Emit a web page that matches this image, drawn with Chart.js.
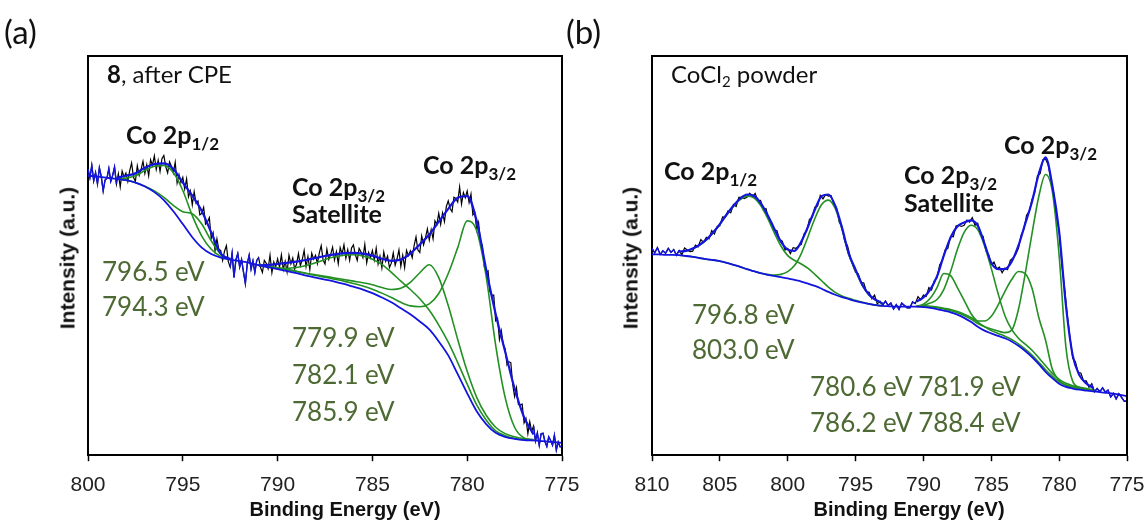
<!DOCTYPE html>
<html>
<head>
<meta charset="utf-8">
<title>Co 2p XPS spectra</title>
<script src="https://cdn.jsdelivr.net/npm/chart.js@4.4.1/dist/chart.umd.min.js"></script>
<style>
  body { margin: 0; background: #fff; }
  #wrap { position: relative; width: 1145px; height: 523px; overflow: hidden; font-family: Lato, "Open Sans", sans-serif; }
  canvas { position: absolute; top: 0; }
  .lbl { position: absolute; white-space: nowrap; line-height: 1; }
  .panel { font-size: 33px; color: #111; }
  .note { font-size: 24px; color: #111; }
  .note sub { font-size: 15px; position: relative; top: 4px; vertical-align: baseline; }
  .peak { font-size: 25px; font-weight: bold; color: #111; }
  .peak sub { font-size: 17px; position: relative; top: 6px; vertical-align: baseline; }
  .fit { font-size: 26px; color: #4e6a34; }
  .axis { font-family: "Liberation Sans", Arial, sans-serif; font-weight: bold; color: #111;
          transform: translate(-50%, -50%); }
  .xt { font-size: 20px; }
  .yt { font-size: 21px; transform: translate(-50%, -50%) rotate(-90deg); }
</style>
</head>
<body>
<div id="wrap">
  <canvas id="chartA" width="600" height="523" style="left:0"></canvas>
  <canvas id="chartB" width="560" height="523" style="left:600px"></canvas>

  <div class="lbl panel" style="left:4px;top:15px">(a)</div>
  <div class="lbl panel" style="left:566px;top:15px">(b)</div>

  <div class="lbl note" style="left:107px;top:62px"><b>8</b>, after CPE</div>
  <div class="lbl note" style="left:671px;top:62px">CoCl<sub>2</sub> powder</div>

  <div class="lbl peak" style="left:126px;top:122px">Co 2p<sub>1/2</sub></div>
  <div class="lbl peak" style="left:292px;top:174px">Co 2p<sub>3/2</sub></div>
  <div class="lbl peak" style="left:292px;top:201px">Satellite</div>
  <div class="lbl peak" style="left:423px;top:152px">Co 2p<sub>3/2</sub></div>

  <div class="lbl peak" style="left:664px;top:158px">Co 2p<sub>1/2</sub></div>
  <div class="lbl peak" style="left:904px;top:162px">Co 2p<sub>3/2</sub></div>
  <div class="lbl peak" style="left:904px;top:190px">Satellite</div>
  <div class="lbl peak" style="left:1004px;top:132px">Co 2p<sub>3/2</sub></div>

  <div class="lbl fit" style="left:102px;top:258px">796.5 eV</div>
  <div class="lbl fit" style="left:102px;top:293px">794.3 eV</div>
  <div class="lbl fit" style="left:292px;top:324px">779.9 eV</div>
  <div class="lbl fit" style="left:292px;top:361px">782.1 eV</div>
  <div class="lbl fit" style="left:292px;top:398px">785.9 eV</div>

  <div class="lbl fit" style="left:692px;top:301px">796.8 eV</div>
  <div class="lbl fit" style="left:692px;top:336px">803.0 eV</div>
  <div class="lbl fit" style="left:810px;top:373px">780.6 eV 781.9 eV</div>
  <div class="lbl fit" style="left:810px;top:409px">786.2 eV 788.4 eV</div>

  <div class="lbl axis xt" style="left:345px;top:509px">Binding Energy (eV)</div>
  <div class="lbl axis xt" style="left:909px;top:509px">Binding Energy (eV)</div>
  <div class="lbl axis yt" style="left:67px;top:258px">Intensity (a.u.)</div>
  <div class="lbl axis yt" style="left:630px;top:258px">Intensity (a.u.)</div>
</div>

<script>
// energy grids (eV, high to low) — spectra are sampled evenly
function grid(from, to, step) {
  const out = [];
  const n = Math.round((from - to) / step);
  for (let i = 0; i <= n; i++) out.push(+(from - i * step).toFixed(2));
  return out;
}

// ---------- (a) 8, after CPE ----------
const rawStepA = 0.1;
const rawA = [
  71.7, 69.5, 72.6, 68.7, 70.8, 68.0, 72.0, 69.8, 66.2, 68.9,
  69.4, 71.8, 68.6, 70.1, 72.2, 67.9, 70.5, 67.2, 71.2, 69.7,
  70.7, 68.6, 71.3, 73.2, 69.6, 68.6, 72.5, 70.1, 71.6, 73.6,
  70.6, 72.8, 70.0, 74.0, 72.6, 75.0, 71.6, 73.9, 71.1, 74.3,
  75.1, 72.3, 70.7, 73.5, 72.4, 70.7, 73.4, 68.2, 70.3, 68.3,
  69.6, 66.7, 69.2, 64.7, 66.2, 62.7, 66.0, 63.1, 63.7, 60.2,
  60.6, 62.1, 57.9, 58.4, 59.5, 54.3, 55.7, 51.2, 54.2, 51.5,
  51.3, 48.8, 51.1, 52.5, 48.5, 47.1, 50.6, 44.5, 48.9, 50.5,
  47.1, 49.0, 45.9, 43.0, 48.0, 50.1, 46.6, 48.7, 45.8, 48.8,
  49.5, 47.0, 45.8, 48.8, 48.1, 46.7, 50.1, 45.7, 48.4, 47.2,
  49.2, 47.1, 50.2, 46.5, 48.6, 45.9, 50.1, 47.9, 49.4, 46.6,
  47.9, 50.5, 47.5, 49.0, 51.3, 47.2, 49.8, 46.5, 50.6, 49.1,
  50.1, 48.0, 50.7, 52.5, 48.9, 47.9, 51.6, 49.0, 50.3, 52.1,
  48.9, 51.0, 48.0, 52.0, 50.4, 52.7, 49.3, 51.5, 48.8, 51.9,
  52.7, 50.2, 48.8, 51.8, 50.9, 49.5, 52.8, 48.2, 50.8, 49.4,
  51.3, 48.9, 51.9, 47.9, 49.9, 46.9, 50.9, 48.6, 49.9, 47.0,
  48.1, 50.7, 47.6, 49.2, 51.4, 47.3, 50.1, 47.0, 51.3, 50.0,
  51.2, 49.5, 52.5, 54.7, 51.4, 50.8, 54.9, 52.7, 54.5, 56.7,
  53.9, 56.5, 54.2, 58.7, 57.8, 60.6, 57.8, 60.7, 58.5, 62.3,
  63.7, 61.8, 61.0, 64.6, 64.3, 63.4, 67.2, 62.9, 65.8, 64.5,
  66.2, 63.3, 65.4, 60.2, 60.8, 56.4, 58.3, 53.6, 52.5, 47.2,
  45.9, 46.2, 40.9, 40.1, 40.1, 33.7, 34.3, 29.0, 31.2, 27.7,
  26.7, 22.6, 23.4, 23.2, 17.7, 14.7, 16.9, 12.7, 12.6, 12.8,
  8.1, 9.2, 5.4, 8.4, 6.0, 7.3, 3.6, 5.6, 2.5, 5.4,
  5.5, 3.4, 2.2, 4.6, 3.7, 2.5, 5.0, 1.3, 3.3, 2.1,
  2.2
];
// raw data outside the fitted windows is shown in blue
const rawBlueA = [[800, 798.5], [792.5, 791], [776.5, 775]];

const bgA = [
  70.0, 69.8, 69.5, 69.2, 68.9, 68.3, 67.3, 65.9, 63.9, 61.1,
  57.9, 54.6, 52.0, 50.4, 49.5, 49.0, 48.6, 48.2, 47.6, 47.1,
  46.6, 46.1, 45.6, 45.0, 44.5, 44.0, 43.5, 42.9, 42.2, 41.5,
  40.6, 39.5, 38.3, 36.8, 35.3, 33.5, 31.5, 28.5, 25.0, 20.3,
  15.5, 11.0, 7.8, 5.6, 4.6, 4.1, 3.8, 3.7, 3.5, 3.3,
  3.1
];

// window 1: 798.5 -> 792.5 eV
const fitA1 = [69.5, 70.0, 70.6, 72.0, 72.9, 73.1, 71.7, 68.3, 65.0, 61.2, 55.8, 50.5, 49.1];
const comp7965 = [69.2, 69.4, 70.0, 71.3, 72.4, 72.6, 70.8, 66.3, 60.0, 54.9, 51.6, 49.8, 49.0];
const comp7943 = [69.2, 68.9, 68.3, 67.4, 66.2, 64.6, 62.6, 61.0, 60.5, 57.9, 53.7, 50.4, 49.1];

// window 2: 791 -> 776.5 eV
const fitA2 = [47.5, 47.7, 47.9, 48.2, 48.5, 48.9, 49.4, 49.9, 50.3, 50.6,
               50.7, 50.5, 50.0, 49.2, 48.7, 49.0, 50.5, 52.8, 55.3, 58.5,
               61.7, 64.5, 64.9, 58.7, 46.5, 35.4, 26.0, 16.7, 9.5, 5.2];
const comp7859 = [47.6, 47.2, 46.9, 46.8, 47.0, 47.5, 48.2, 49.0, 49.7, 50.1,
                  50.2, 49.9, 49.1, 47.8, 45.8, 43.6, 41.5, 39.2, 36.3, 32.6,
                  28.3, 23.2, 17.8, 12.6, 8.8, 6.1, 4.9, 4.2, 3.9, 3.7];
const comp7821 = [47.8, 47.3, 46.9, 46.5, 46.1, 45.6, 45.2, 44.8, 44.4, 44.0,
                  43.6, 43.2, 42.7, 42.0, 41.5, 41.8, 43.3, 45.7, 47.7, 44.5,
                  37.5, 29.0, 21.0, 14.5, 10.0, 7.0, 5.4, 4.6, 4.1, 3.9];
const comp7799 = [47.8, 47.4, 46.9, 46.5, 46.0, 45.5, 45.0, 44.6, 44.1, 43.6,
                  43.0, 42.4, 41.6, 40.6, 39.5, 38.3, 37.4, 37.2, 37.9, 40.5,
                  45.5, 52.0, 58.7, 56.2, 44.8, 27.6, 14.5, 7.0, 4.3, 3.8];

// ---------- (b) CoCl2 powder ----------
const rawStepB = 0.2;
const rawB = [
  51.8, 50.7, 52.0, 50.3, 51.2,
  50.6, 51.8, 50.8, 51.5, 50.1,
  51.3, 50.2, 51.9, 51.4, 51.0,
  51.1, 52.6, 52.2, 54.0, 53.3,
  54.6, 54.2, 56.3, 55.4, 57.3,
  57.5, 59.7, 59.6, 61.2, 60.7,
  62.8, 62.3, 64.6, 64.6, 64.3,
  64.6, 65.6, 64.8, 65.6, 63.7,
  63.8, 61.5, 61.8, 58.8, 58.4,
  56.4, 56.3, 54.0, 53.6, 51.4,
  51.8, 50.5, 52.0, 51.8, 52.4,
  52.8, 55.4, 56.2, 59.1, 59.6,
  62.1, 62.4, 65.1, 64.2, 65.3,
  64.9, 65.0, 62.9, 61.9, 58.3,
  57.3, 53.5, 52.5, 49.8, 47.5,
  45.8, 45.4, 43.2, 43.2, 41.0,
  40.8, 39.2, 40.1, 37.9, 38.6,
  37.6, 38.6, 37.5, 38.1, 36.6,
  37.7, 36.5, 38.1, 37.5, 36.9,
  36.9, 38.4, 38.0, 39.7, 38.9,
  40.1, 39.8, 42.0, 41.4, 43.7,
  44.4, 47.7, 48.8, 51.4, 51.8,
  54.8, 54.7, 57.4, 57.6, 57.3,
  57.6, 58.9, 58.4, 59.5, 57.6,
  58.1, 55.2, 54.8, 51.2, 50.3,
  47.8, 48.4, 46.7, 47.1, 45.7,
  46.9, 46.5, 48.8, 49.4, 50.3,
  51.8, 55.1, 56.6, 60.1, 61.1,
  64.1, 65.8, 70.0, 70.5, 74.0,
  74.2, 72.6, 68.7, 65.7, 59.7,
  56.3, 47.7, 41.9, 35.1, 29.4,
  24.3, 23.4, 20.7, 20.6, 18.6,
  18.6, 17.0, 17.9, 15.9, 16.7,
  15.9, 16.9, 15.8, 16.3, 14.6,
  15.5, 14.1, 15.4, 14.5, 13.5,
  13.6
];
const rawBlueB = [[810, 808], [793, 790.6], [777.6, 775]];

const bgB = [
  50.3, 50.3, 50.2, 50.2, 50.1, 49.9, 49.7, 49.4, 49.1, 48.9,
  48.6, 48.2, 47.7, 47.2, 46.6, 46.1, 45.6, 45.2, 44.9, 44.6,
  44.3, 43.9, 43.5, 43.0, 42.4, 41.7, 40.9, 40.2, 39.6, 39.1,
  38.6, 38.2, 37.9, 37.6, 37.4, 37.3, 37.2, 37.2, 37.2, 37.2,
  37.1, 36.9, 36.6, 36.2, 35.8, 35.2, 34.4, 33.4, 32.2, 31.2,
  30.5, 29.9, 29.3, 28.5, 27.4, 26.1, 24.6, 22.8, 20.9, 19.3,
  17.9, 17.1, 16.7, 16.4, 16.2, 16.0, 15.8, 15.6, 15.4, 15.1,
  14.8
];

// window 1: 808 -> 793 eV
const fitB1 = [51.0, 51.2, 51.8, 52.7, 54.0, 55.8, 57.9, 60.3, 62.5, 64.3,
               65.3, 65.0, 63.2, 60.3, 56.8, 53.5, 51.5, 51.2, 53.5, 57.3,
               61.5, 64.9, 65.3, 62.5, 57.0, 50.5, 46.5, 42.7, 40.2, 38.9, 38.0];
const comp8030 = [50.9, 51.1, 51.7, 52.6, 53.9, 55.7, 57.8, 60.2, 62.3, 64.0,
                  64.9, 64.5, 62.6, 59.5, 55.8, 52.4, 50.0, 48.8, 47.9, 46.8,
                  45.3, 43.7, 42.1, 40.8, 39.9, 39.3, 38.8, 38.3, 37.9, 37.6, 37.4];
const comp7968 = [50.1, 49.9, 49.7, 49.4, 49.1, 48.9, 48.6, 48.2, 47.7, 47.2,
                  46.6, 46.1, 45.6, 45.3, 45.1, 45.3, 46.0, 47.5, 50.5, 54.8,
                  59.3, 62.8, 63.9, 61.8, 56.6, 50.2, 46.2, 42.5, 40.1, 38.8, 37.9];

// window 2: 790.5 -> 777.5 eV
const fitB2 = [38.5, 39.5, 41.5, 44.8, 50.0, 54.5, 57.3, 58.3, 58.8, 57.5,
               53.0, 48.2, 46.6, 46.6, 48.5, 52.5, 58.0, 63.5, 70.5, 74.6,
               67.5, 56.0, 37.5, 25.0, 20.0, 18.0, 16.8];
const comp7884 = [37.3, 37.8, 39.3, 42.0, 45.5, 45.0, 42.0, 38.8, 35.5, 33.4,
                  32.2, 31.2, 30.5, 29.8, 29.0, 27.9, 26.6, 25.1, 23.3, 21.4,
                  19.8, 18.4, 17.5, 17.0, 16.7, 16.4, 16.2];
const comp7862 = [37.2, 37.5, 38.1, 39.0, 41.5, 46.0, 51.5, 55.8, 57.6, 56.5,
                  52.5, 46.8, 40.5, 35.0, 31.5, 29.3, 27.8, 26.3, 24.4, 22.4,
                  20.5, 19.0, 18.0, 17.4, 17.0, 16.7, 16.4];
const comp7819 = [37.4, 37.4, 37.3, 37.1, 36.8, 36.5, 36.0, 35.3, 34.5, 33.6,
                  33.6, 34.8, 37.6, 41.0, 44.0, 46.0, 45.5, 41.8, 34.5, 28.8,
                  21.5, 18.7, 17.6, 17.1, 16.7, 16.4, 16.2];
const comp7806 = [37.4, 37.3, 37.2, 37.0, 36.6, 36.2, 35.7, 35.0, 34.1, 33.0,
                  32.2, 31.6, 31.1, 30.7, 31.3, 36.5, 45.5, 55.5, 64.8, 70.3,
                  66.0, 50.0, 27.0, 18.5, 17.0, 16.5, 16.2];

const BLACK = '#000000';
const BLUE = '#1414e0';
const GREEN = '#239023';

function pts(xs, ys) {
  return ys.map((y, i) => ({ x: xs[i], y }));
}

function slice(xs, ys, hi, lo) {
  return pts(xs, ys).filter(p => p.x <= hi + 1e-6 && p.x >= lo - 1e-6);
}

function curve(data, color, width, order, smooth) {
  return {
    data, borderColor: color, borderWidth: width, order,
    pointRadius: 0, fill: false, tension: 0,
    cubicInterpolationMode: smooth ? 'monotone' : 'default'
  };
}

function spectrum(rawX, raw, blueRanges, bgX, bg, windows) {
  const sets = [curve(pts(rawX, raw), BLACK, 1.2, 5, false)];
  windows.forEach(w => {
    w.comps.forEach(c => sets.push(curve(pts(w.x, c), GREEN, 1.6, 4, true)));
    sets.push(curve(pts(w.x, w.fit), BLUE, 2.2, 2, true));
  });
  sets.push(curve(pts(bgX, bg), BLUE, 1.8, 3, true));
  blueRanges.forEach(r => sets.push(curve(slice(rawX, raw, r[0], r[1]), BLUE, 1.4, 1, false)));
  return sets;
}

// top and right edges of the plot box
const frame = {
  id: 'frame',
  afterDraw(chart) {
    const { ctx, chartArea: a } = chart;
    ctx.save();
    ctx.strokeStyle = '#000';
    ctx.lineWidth = 2;
    ctx.beginPath();
    ctx.moveTo(a.left, a.top);
    ctx.lineTo(a.right, a.top);
    ctx.lineTo(a.right, a.bottom);
    ctx.stroke();
    ctx.restore();
  }
};

function makeChart(id, xMin, xMax, padLeft, padRight, datasets) {
  return new Chart(document.getElementById(id), {
    type: 'line',
    data: { datasets },
    options: {
      responsive: false,
      animation: false,
      events: [],
      layout: { padding: { left: padLeft, right: padRight, top: 56, bottom: 14.6 } },
      plugins: { legend: { display: false }, tooltip: { enabled: false } },
      scales: {
        x: {
          type: 'linear', reverse: true, min: xMin, max: xMax,
          ticks: {
            stepSize: 5, color: '#222', padding: 11, maxRotation: 0,
            font: { family: '"Liberation Sans", Arial, sans-serif', size: 21 }
          },
          grid: { drawOnChartArea: false, color: '#000', tickLength: 6, tickWidth: 1.5 },
          border: { color: '#000', width: 2 }
        },
        y: {
          min: 0, max: 100,
          ticks: { display: false },
          grid: { display: false },
          border: { color: '#000', width: 2 }
        }
      }
    },
    plugins: [frame]
  });
}

makeChart('chartA', 775, 800, 80, 38, spectrum(
  grid(800, 775, rawStepA), rawA, rawBlueA,
  grid(800, 775, 0.5), bgA,
  [
    { x: grid(798.5, 792.5, 0.5), fit: fitA1, comps: [comp7965, comp7943] },
    { x: grid(791, 776.5, 0.5), fit: fitA2, comps: [comp7859, comp7821, comp7799] }
  ]
));

makeChart('chartB', 775, 810, 44, 33, spectrum(
  grid(810, 775, rawStepB), rawB, rawBlueB,
  grid(810, 775, 0.5), bgB,
  [
    { x: grid(808, 793, 0.5), fit: fitB1, comps: [comp8030, comp7968] },
    { x: grid(790.5, 777.5, 0.5), fit: fitB2, comps: [comp7884, comp7862, comp7819, comp7806] }
  ]
));
</script>
</body>
</html>
